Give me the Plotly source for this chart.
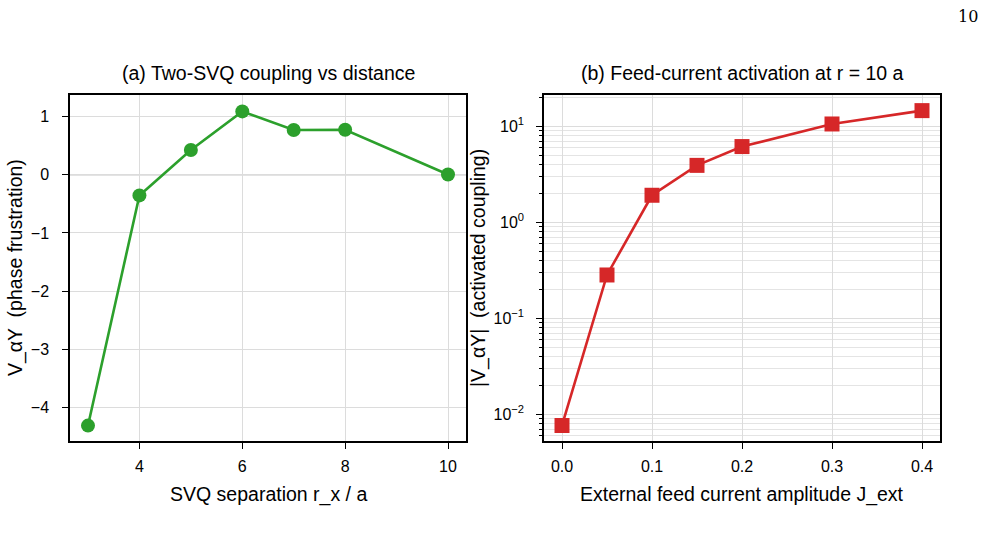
import plotly.graph_objects as go

# ---- data ----
sep_r = [3, 4, 5, 6, 7, 8, 10]
v_phase = [-4.31, -0.355, 0.424, 1.088, 0.768, 0.773, 0.005]

j_ext = [0.0, 0.05, 0.10, 0.15, 0.20, 0.30, 0.40]
v_act = [0.0077, 0.284, 1.92, 3.93, 6.17, 10.6, 14.6]

left_xticks = [4, 6, 8, 10]
left_yticks = [-4, -3, -2, -1, 0, 1]
right_xticks = [0.0, 0.1, 0.2, 0.3, 0.4]
right_xtext = ["0.0", "0.1", "0.2", "0.3", "0.4"]
right_yticks = [0.01, 0.1, 1, 10]
right_ytext = ["10<sup>−2</sup>", "10<sup>−1</sup>", "10<sup>0</sup>", "10<sup>1</sup>"]
minor_vals = [m * 10 ** e for e in (-3, -2, -1, 0, 1) for m in range(2, 10)]

GREEN = "#2ca02c"
RED = "#d62728"
GRID = "#dcdcdc"
FONT = "Liberation Sans, Arial, sans-serif"

W, H = 987, 545
def px(x):
    return x / W
def py(y):
    return 1 - y / H

fig = go.Figure()
fig.add_trace(go.Scatter(x=sep_r, y=v_phase, mode="lines+markers",
                         line=dict(color=GREEN, width=2.6),
                         marker=dict(color=GREEN, size=14, symbol="circle"),
                         xaxis="x", yaxis="y", showlegend=False))
fig.add_trace(go.Scatter(x=j_ext, y=v_act, mode="lines+markers",
                         line=dict(color=RED, width=2.6),
                         marker=dict(color=RED, size=15, symbol="square"),
                         xaxis="x2", yaxis="y2", showlegend=False))

axis_common = dict(showline=True, linecolor="black", linewidth=1.5, mirror=True,
                   ticks="outside", ticklen=6, tickwidth=1.2, tickcolor="black",
                   showgrid=True, gridcolor=GRID, gridwidth=1, zeroline=False,
                   tickfont=dict(family=FONT, size=16, color="black"))

x0a, x1a = px(70), px(466)
x0b, x1b = px(544), px(940)
yb, yt = py(441), py(95)

fig.update_layout(
    width=W, height=H, margin=dict(l=0, r=0, t=0, b=0),
    paper_bgcolor="white", plot_bgcolor="white",
    xaxis=dict(domain=[x0a, x1a], range=[2.65, 10.35], tickvals=left_xticks, anchor="y",
               ticklabelstandoff=4, **axis_common),
    yaxis=dict(domain=[yb, yt], range=[-4.575, 1.37], tickvals=left_yticks, anchor="x",
               ticklabelstandoff=10, **axis_common),
    xaxis2=dict(domain=[x0b, x1b], range=[-0.02, 0.42], tickvals=right_xticks, ticktext=right_xtext,
                anchor="y2", ticklabelstandoff=4, **axis_common),
    yaxis2=dict(domain=[yb, yt], type="log", range=[-2.275, 1.327], tickvals=right_yticks,
                ticktext=right_ytext, anchor="x2", ticklabelstandoff=9,
                minor=dict(tickvals=minor_vals, ticks="outside", ticklen=3.5, tickcolor="black",
                           tickwidth=1, showgrid=True, gridcolor="#e4e4e4", gridwidth=1),
                **axis_common),
)

# zero line on left panel
fig.add_shape(type="line", xref="x domain", yref="y", x0=0, x1=1, y0=0, y1=0,
              line=dict(color="#808080", width=1), layer="below")

tfont = dict(family=FONT, size=19.5, color="black")
ann = [
    dict(text="(a) Two-SVQ coupling vs distance", x=(x0a + x1a) / 2, y=py(86), yanchor="bottom"),
    dict(text="(b) Feed-current activation at r = 10 a", x=(x0b + x1b) / 2, y=py(86), yanchor="bottom"),
    dict(text="SVQ separation r_x / a", x=(x0a + x1a) / 2, y=py(494), yanchor="middle"),
    dict(text="External feed current amplitude J_ext", x=(x0b + x1b) / 2, y=py(494), yanchor="middle"),
    dict(text="V_αY  (phase frustration)", x=px(15), y=(yb + yt) / 2, textangle=-90, xanchor="center"),
    dict(text="|V_αY|  (activated coupling)", x=px(478), y=(yb + yt) / 2, textangle=-90, xanchor="center"),
]
for a in ann:
    a.setdefault("xanchor", "center")
    a.setdefault("yanchor", "middle")
    fig.add_annotation(xref="paper", yref="paper", showarrow=False, font=tfont, **a)

fig.add_annotation(text="10", xref="paper", yref="paper", x=px(968), y=py(17),
                   xanchor="center", yanchor="middle", showarrow=False,
                   font=dict(family="DejaVu Serif, Liberation Serif, serif", size=16, color="black"))

fig.write_html("out.html")
